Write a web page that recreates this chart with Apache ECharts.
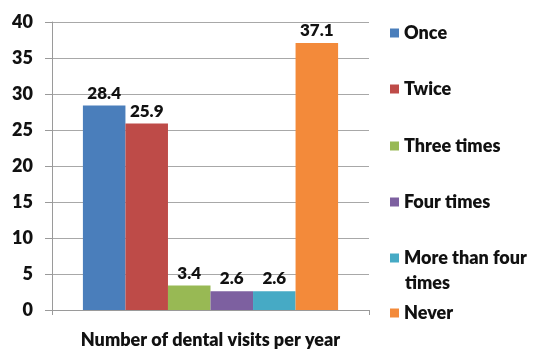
<!DOCTYPE html>
<html>
<head>
<meta charset="utf-8">
<script src="https://cdn.jsdelivr.net/npm/echarts@6/dist/echarts.min.js"></script>
<style>
  html, body { margin: 0; padding: 0; background: #fff; }
  #chart { width: 533px; height: 350px; }
</style>
</head>
<body>
<div id="chart"></div>
<script>
// Share of respondents by number of dental visits per year (%)
const categories = ['Number of dental visits per year'];
const seriesNames = ['Once', 'Twice', 'Three times', 'Four times', 'More than four times', 'Never'];
const seriesValues = [28.4, 25.9, 3.4, 2.6, 2.6, 37.1];
const seriesColors = ['#4A7EBB', '#BE4B48', '#98B954', '#7D60A0', '#46AAC5', '#F38A3A'];
const yTicks = { min: 0, max: 40, interval: 5 };

const font = 'Lato, "Open Sans", sans-serif';
const weight = 800;
const legendTops = [17, 73, 130, 186, 242, 297];

const series = seriesNames.map((name, i) => ({
  name,
  type: 'bar',
  data: [seriesValues[i]],
  itemStyle: { color: seriesColors[i] },
  barGap: '0%',
  barCategoryGap: '19.5%',
  label: {
    show: true,
    position: 'top',
    distance: 4,
    color: '#111',
    fontFamily: font,
    fontWeight: weight,
    fontSize: 17
  }
}));

// One legend block per series so each entry sits at its own row;
// the long entry wraps, its second line is drawn as a text element below.
const legends = seriesNames.map((name, i) => ({
  data: [name],
  left: 385,
  top: legendTops[i],
  itemWidth: 9,
  itemHeight: 9,
  itemGap: 6,
  icon: 'rect',
  selectedMode: false,
  formatter: n => n === 'More than four times' ? 'More than four' : n,
  textStyle: {
    color: '#111',
    fontFamily: font,
    fontWeight: weight,
    fontSize: 18,
    lineHeight: 22
  }
}));

const chart = echarts.init(document.getElementById('chart'), null, { renderer: 'canvas' });
chart.setOption({
  animation: false,
  backgroundColor: '#fff',
  grid: { left: 52, right: 164, top: 22, bottom: 40, containLabel: false },
  legend: legends,
  graphic: [{
    type: 'text',
    left: 405,
    top: 274,
    style: {
      text: 'times',
      fill: '#111',
      font: weight + ' 18px ' + font
    }
  }],
  xAxis: {
    type: 'category',
    data: categories,
    axisLine: { lineStyle: { color: '#9a9a9a', width: 1 } },
    axisTick: { show: true, length: 5, lineStyle: { color: '#9a9a9a' } },
    axisLabel: {
      color: '#111',
      fontFamily: font,
      fontWeight: weight,
      fontSize: 18,
      margin: 21
    }
  },
  yAxis: {
    type: 'value',
    min: yTicks.min,
    max: yTicks.max,
    interval: yTicks.interval,
    axisLine: { show: true, lineStyle: { color: '#9a9a9a', width: 1 } },
    axisTick: { show: true, inside: false, length: 7, lineStyle: { color: '#9a9a9a' } },
    splitLine: { show: true, lineStyle: { color: '#a8a8a8', width: 1 } },
    axisLabel: {
      color: '#111',
      fontFamily: font,
      fontWeight: weight,
      fontSize: 18,
      margin: 19
    }
  },
  series
});
</script>
</body>
</html>
